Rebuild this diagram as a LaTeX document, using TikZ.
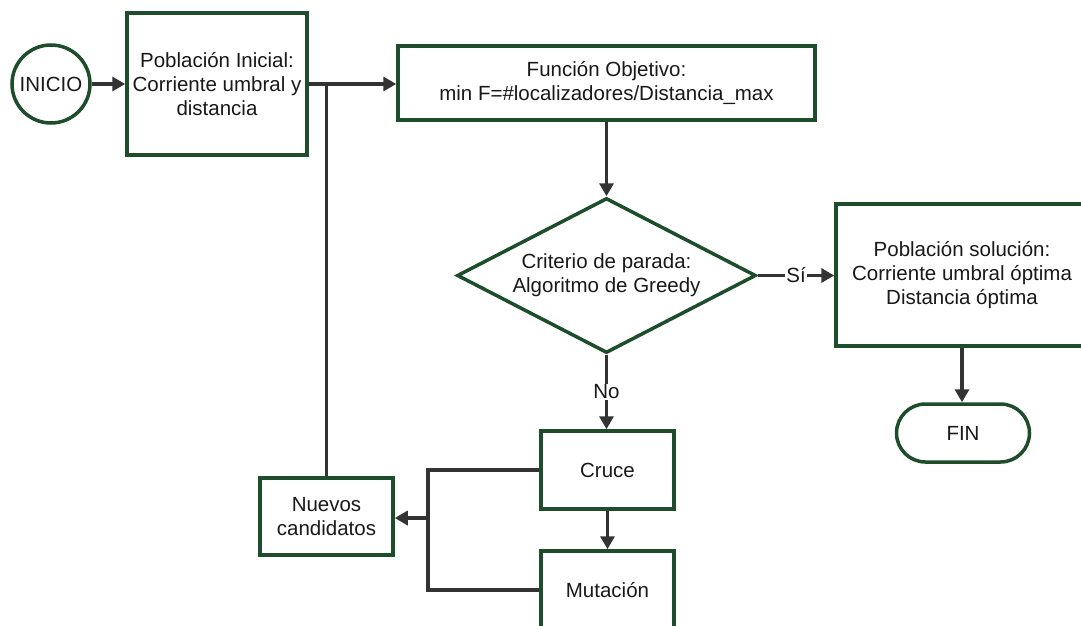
\documentclass[tikz,border=0pt]{standalone}
\usepackage{fontspec}
\setmainfont{Liberation Sans}
\usetikzlibrary{arrows.meta,shapes.geometric,shapes.misc}
\definecolor{boxgreen}{HTML}{1E4D2B}
\definecolor{linegray}{HTML}{333333}
\tikzset{
  base/.style={draw=boxgreen, line width=3.5pt, fill=white, align=center, inner sep=0pt,
    font=\fontsize{20.5}{24}\selectfont, text=black!90},
  box/.style={base, rectangle},
  conn/.style={draw=linegray, line width=3.3pt},
  arr/.style={conn, -{Triangle[length=13pt,width=14pt]}},
  lbl/.style={fill=white, inner sep=1pt, font=\fontsize{20.5}{24}\selectfont, text=black!90}
}
\begin{document}
\begin{tikzpicture}[x=1pt,y=-1pt]
\useasboundingbox (0,0) rectangle (1081,626);
\clip (0,0) rectangle (1081,626);
\fill[white] (0,0) rectangle (1081,626);

\node[base, circle, minimum size=78pt] (inicio) at (51,84) {INICIO};
\node[box, minimum width=180pt, minimum height=142pt] (pi) at (217,84) {Población Inicial:\\Corriente umbral y\\distancia};
\node[box, minimum width=417pt, minimum height=74pt] (fo) at (606.5,83) {Función Objetivo:\\min F=\#localizadores/Distancia\_max};
\node[base, diamond, aspect=1.93, minimum width=299pt, minimum height=155pt] (dia) at (606.5,275.5) {Criterio de parada:\\Algoritmo de Greedy};
\node[box, minimum width=252pt, minimum height=142pt] (ps) at (962,275) {Población solución:\\Corriente umbral óptima\\Distancia óptima};
\node[base, rounded rectangle, minimum width=133pt, minimum height=58pt] (fin) at (963,433) {FIN};
\node[box, minimum width=133pt, minimum height=78pt] (cruce) at (607.5,470) {Cruce};
\node[box, minimum width=133pt, minimum height=78pt] (mut) at (607.5,590) {Mutación};
\node[box, minimum width=133pt, minimum height=77pt] (nc) at (326.5,516.5) {Nuevos\\candidatos};

\coordinate (j1) at (327,84);
\coordinate (c1) at (428,470);
\coordinate (c2) at (428,590);
\coordinate (c3) at (428,518);

\draw[arr] (inicio.east) -- (pi.west);
\draw[arr] (pi.east |- j1) -- (fo.west |- j1);
\draw[conn] (nc.north) -- (nc.north |- j1);
\draw[arr] (fo.south) -- (dia.north);
\draw[arr] (dia.east) -- node[lbl] {Sí} (ps.west |- dia.east);
\draw[arr] (ps.south) -- (ps.south |- fin.north);
\draw[arr] (dia.south) -- node[lbl] {No} (dia.south |- cruce.north);
\draw[arr] (cruce.south) -- (mut.north);
\draw[conn] (cruce.west) -- (c1) -- (c2) -- (mut.west);
\draw[arr] (c3) -- (nc.east |- c3);
\end{tikzpicture}
\end{document}
